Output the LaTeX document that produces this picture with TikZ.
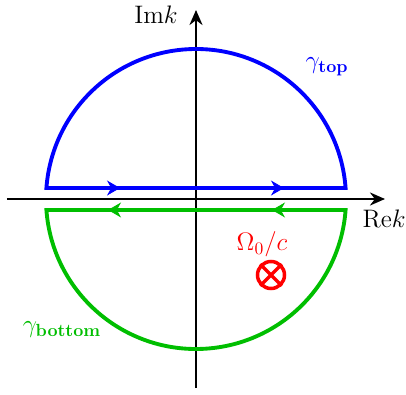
\documentclass[tikz,border=0pt]{standalone}
\usepackage{amsmath,amssymb}
\usepackage{xcolor}
\usetikzlibrary{arrows.meta,decorations.markings}

\definecolor{cgreen}{RGB}{0,190,0}

\begin{document}
\begin{tikzpicture}[
  axis/.style={line width=1.7pt, -{Stealth[length=3mm,width=2.6mm]}},
  contour/.style={line width=2.2pt},
  flow/.style={postaction={decorate}, decoration={markings,
      mark=at position 0.246 with {\arrow{Stealth[length=2.6mm,width=3mm]}},
      mark=at position 0.794 with {\arrow{Stealth[length=2.6mm,width=3mm]}}}},
  lbl/.style={font=\Large, inner sep=1pt}
]
  \useasboundingbox (-3.92,-3.9) rectangle (4.2,3.98);

  % axes
  \coordinate (xl) at (-3.78,0);
  \coordinate (xr) at (3.78,0);
  \coordinate (yb) at (0,-3.78);
  \coordinate (yt) at (0,3.78);
  \draw[axis] (xl) -- (xr);
  \draw[axis] (yb) -- (yt);
  \node[lbl] (im) at (-0.8,3.68) {Im$k$};
  \node[lbl] (re) at (3.76,-0.4) {Re$k$};

  % upper contour
  \coordinate (tl) at (175.8:3);
  \coordinate (tr) at (4.2:3);
  \draw[contour, blue] (tl) -- (tr) arc[start angle=4.2, end angle=175.8, radius=3] -- cycle;
  \path[flow, blue] (tl) -- (tr);
  \node[lbl, text=blue] (gtop) at (2.62,2.64) {$\gamma_{\textbf{top}}$};

  % lower contour
  \coordinate (bl) at (-175.8:3);
  \coordinate (br) at (-4.2:3);
  \draw[contour, cgreen] (br) -- (bl) arc[start angle=-175.8, end angle=-4.2, radius=3] -- cycle;
  \path[flow, cgreen] (br) -- (bl);
  \node[lbl, text=cgreen] (gbot) at (-2.68,-2.62) {$\gamma_{\textbf{bottom}}$};

  % pole
  \node[lbl, text=red] (om) at (1.32,-0.9) {$\Omega_0/c$};
  \node[draw=red, circle, line width=2pt, minimum size=0.54cm, inner sep=0pt] (pole) at (1.5,-1.52) {};
  \draw[red, line width=2pt] (pole.north west) -- (pole.south east);
  \draw[red, line width=2pt] (pole.north east) -- (pole.south west);
\end{tikzpicture}
\end{document}
